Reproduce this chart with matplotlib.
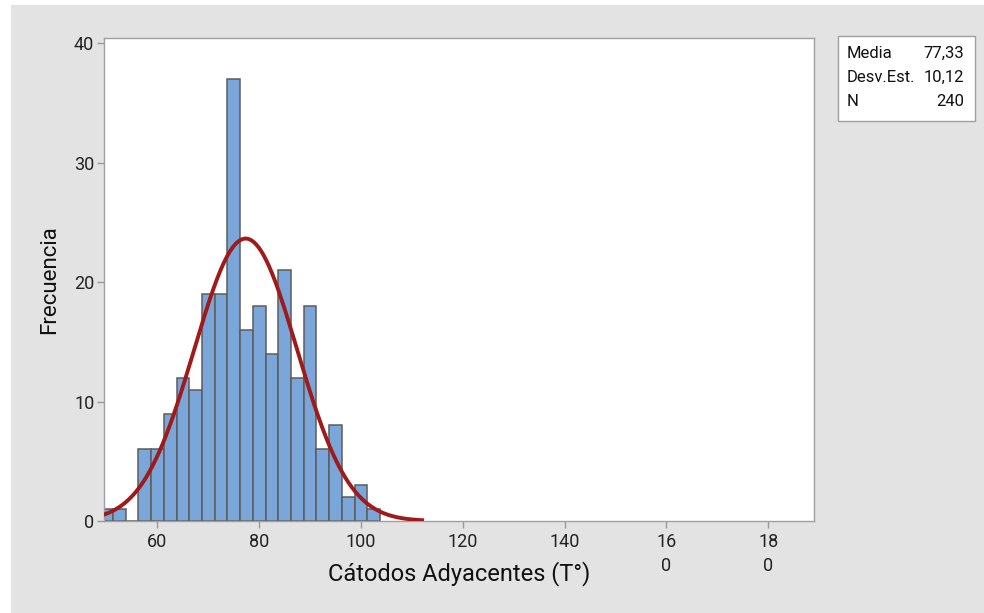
import numpy as np
import matplotlib
matplotlib.use("Agg")
from matplotlib import pyplot as plt
from matplotlib.patches import Rectangle

plt.rcParams['font.family'] = ['Roboto', 'DejaVu Sans']

# histogram data (bin midpoints, width 2.5)
bin_mids = [50, 52.5, 55, 57.5, 60, 62.5, 65, 67.5, 70, 72.5, 75, 77.5, 80,
            82.5, 85, 87.5, 90, 92.5, 95, 97.5, 100, 102.5]
counts = [1, 1, 0, 6, 6, 9, 12, 11, 19, 19, 37, 16, 18,
          14, 21, 12, 18, 6, 8, 2, 3, 1]
bin_width = 2.5

media = 77.33
desv = 10.12
n = 240

x_ticks = [60, 80, 100, 120, 140, 160, 180]
x_tick_labels = ['60', '80', '100', '120', '140', '16\n0', '18\n0']
y_ticks = [0, 10, 20, 30, 40]

fig = plt.figure(figsize=(9.84, 6.13), dpi=100)
fig.patch.set_facecolor('white')
fig.patches.append(Rectangle((11 / 984, 0), 1, 1 - 5 / 613, transform=fig.transFigure,
                             facecolor='#e3e3e3', edgecolor='none', zorder=-5))

ax = fig.add_axes([104 / 984, 1 - 521 / 613, 710 / 984, 483 / 613])
ax.set_facecolor('white')

ax.bar(bin_mids, counts, width=bin_width, color='#7aa6da', edgecolor='#5c5c5c',
       linewidth=1.1, zorder=2)

# fitted normal curve
xs = np.linspace(49.5, 112, 300)
ys = n * bin_width / (desv * np.sqrt(2 * np.pi)) * np.exp(-0.5 * ((xs - media) / desv) ** 2)
ax.plot(xs, ys, color='#a01a1a', linewidth=2.8, zorder=3)

ax.set_xlim(49.5, 189)
ax.set_ylim(0, 40.45)
ax.set_xticks(x_ticks)
ax.set_xticklabels(x_tick_labels, va='top', linespacing=1.45)
ax.set_yticks(y_ticks)
ax.tick_params(axis='both', colors='#9a9a9a', labelcolor='#222222', labelsize=13,
               length=5, width=1, direction='out')
ax.tick_params(axis='y', pad=2)
for s in ax.spines.values():
    s.set_color('#a0a0a0')
    s.set_linewidth(1)

ax.set_xlabel('Cátodos Adyacentes (T°)', fontsize=17, color='#111111', labelpad=-10)
ax.set_ylabel('Frecuencia', fontsize=16, color='#111111', labelpad=10)

# legend box
lx0, ly0, lx1, ly1 = 838 / 984, 1 - 121 / 613, 975 / 984, 1 - 36 / 613
fig.patches.append(Rectangle((lx0, ly0), lx1 - lx0, ly1 - ly0, transform=fig.transFigure,
                             facecolor='white', edgecolor='#a0a0a0', linewidth=1, zorder=1))
rows = [('Media', '77,33'), ('Desv.Est.', '10,12'), ('N', str(n))]
for i, (lab, val) in enumerate(rows):
    yy = 1 - (53 + i * 24) / 613
    fig.text(847 / 984, yy, lab, fontsize=12, va='center', ha='left', color='#111111', zorder=2)
    fig.text(964 / 984, yy, val, fontsize=12, va='center', ha='right', color='#111111', zorder=2)

fig.savefig('out.png', dpi=100)
